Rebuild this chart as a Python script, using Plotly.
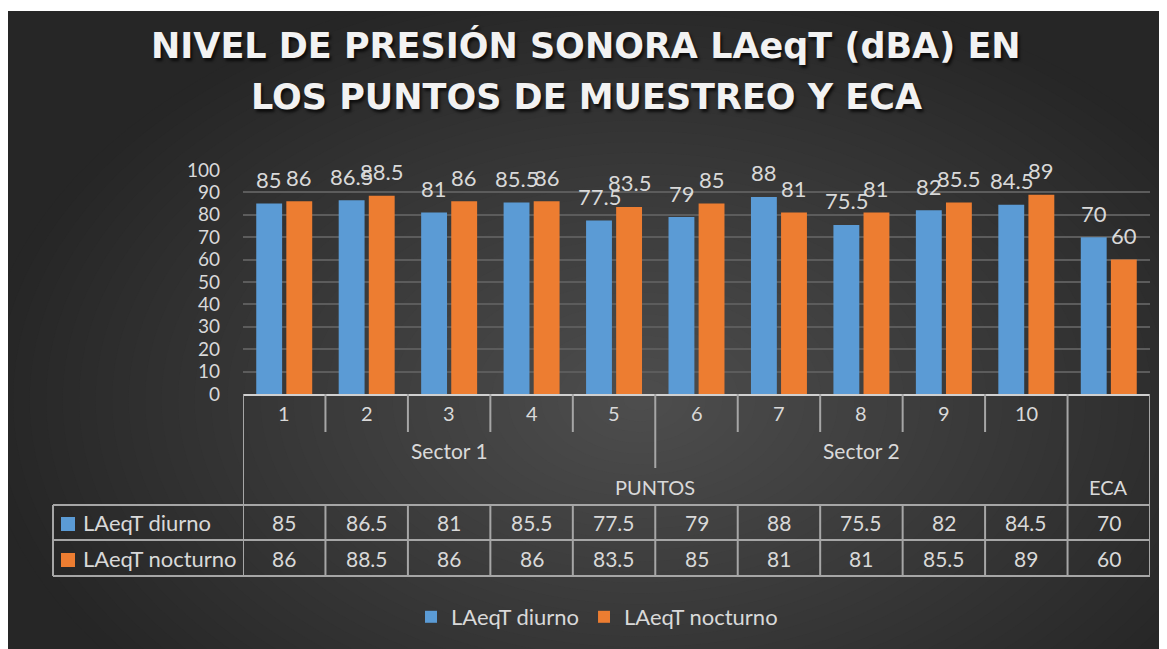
import plotly.graph_objects as go

# --- datos ---
puntos = ["1", "2", "3", "4", "5", "6", "7", "8", "9", "10", "ECA"]
etiquetas_punto = ["1", "2", "3", "4", "5", "6", "7", "8", "9", "10", ""]
sectores = ["Sector 1", "Sector 2"]
sector_idx = [(0, 4), (5, 9)]
grupos = ["PUNTOS", "ECA"]
grupo_idx = [(0, 9), (10, 10)]
series = ["LAeqT diurno", "LAeqT nocturno"]
diurno = [85, 86.5, 81, 85.5, 77.5, 79, 88, 75.5, 82, 84.5, 70]
nocturno = [86, 88.5, 86, 86, 83.5, 85, 81, 81, 85.5, 89, 60]
y_ticks = [0, 10, 20, 30, 40, 50, 60, 70, 80, 90, 100]

titulo = ["NIVEL DE PRESIÓN SONORA LAeqT (dBA) EN", "LOS PUNTOS DE MUESTREO Y ECA"]

# --- estilo ---
FIG_W, FIG_H = 1167, 649
OFF = 8                              # page body margin shifts the figure
L, R, T, B = 243, 1150, 170, 394     # plot area, in screen pixels
FONT = "Lato"
TXT = "#d9d9d9"
LINE = "#a6a6a6"
BLUE = "#5b9bd5"
ORANGE = "#ed7d31"


def px(x):
    return (x - L) / (R - L)


def py(y):
    return (B - y) / (B - T)


fig = go.Figure()
fig.add_trace(go.Bar(x=puntos, y=diurno, name=series[0], marker=dict(color=BLUE, line_width=0)))
fig.add_trace(go.Bar(x=puntos, y=nocturno, name=series[1], marker=dict(color=ORANGE, line_width=0)))

shapes = []
# background: dark radial gradient approximated with nested ellipses
cx, cy, rx, ry = 640, 400, 660, 430
dark, light = 38, 78
steps = 40
for i in range(steps, 0, -1):
    f = i / steps
    g = round(dark + (light - dark) * (1 - f))
    shapes.append(dict(type="circle", xref="paper", yref="paper", layer="below",
                       x0=px(cx - rx * f), x1=px(cx + rx * f), y0=py(cy + ry * f), y1=py(cy - ry * f),
                       fillcolor=f"rgb({g},{g},{g})", line_width=0))
# white page margin at the top
shapes.append(dict(type="rect", xref="paper", yref="paper", layer="below",
                   x0=px(0), x1=px(FIG_W + 20), y0=py(11), y1=py(-5), fillcolor="white", line_width=0))


def vline(xi, y0, y1):
    shapes.append(dict(type="line", xref="x", yref="paper", x0=xi, x1=xi, y0=py(y0), y1=py(y1),
                       line=dict(color=LINE, width=2)))


def hline(x0, x1, y):
    shapes.append(dict(type="line", xref="paper", yref="paper", x0=x0, x1=x1, y0=py(y), y1=py(y),
                       line=dict(color=LINE, width=2)))


n = len(puntos)
# category header dividers
vline(-0.5, B, 576)
vline(n - 0.5, B, 576)
for k in range(n - 1):
    b = k + 0.5
    if any(b == e + 0.5 for _, e in grupo_idx[:-1]):
        vline(b, B, 505)
    elif any(b == e + 0.5 for _, e in sector_idx[:-1]):
        vline(b, B, 468)
    else:
        vline(b, B, 432)
    vline(b, 505, 576)
# data table rows
for yy in (505, 540, 576):
    hline(px(53), 1, yy)
shapes.append(dict(type="line", xref="paper", yref="paper", x0=px(53), x1=px(53),
                   y0=py(505), y1=py(576), line=dict(color=LINE, width=2)))
# legend keys inside table
for j, col in enumerate([BLUE, ORANGE]):
    yc = 524 + 36 * j
    shapes.append(dict(type="rect", xref="paper", yref="paper", x0=px(61), x1=px(75),
                       y0=py(yc + 7), y1=py(yc - 7), fillcolor=col, line_width=0))


def label(x, y, text, size, xref="x", yref="paper", **kw):
    d = dict(x=x, y=y, xref=xref, yref=yref, text=text, showarrow=False,
             xanchor="center", yanchor="middle", font=dict(family=FONT, size=size, color=TXT))
    d.update(kw)
    return d


ann = []
# title
for j, line in enumerate(titulo):
    ann.append(label(px(586), py(45 + 51.5 * j), line, 35, xref="paper",
                     font=dict(family="DejaVu Sans", size=35, color="#f2f2f2", weight="bold",
                               shadow="2px 3px 3px rgba(0,0,0,0.7)")))
# data labels above bars
for vals, shift in ((diurno, -15), (nocturno, 15)):
    for i, v in enumerate(vals):
        ann.append(label(i, v, f"{v:g}", 22, yref="y", xshift=shift, yshift=24))
# multi-level category labels
for i, lab in enumerate(etiquetas_punto):
    ann.append(label(i, py(413), lab, 20))
for lab, (a, b) in zip(sectores, sector_idx):
    ann.append(label((a + b) / 2, py(450), lab, 21))
for lab, (a, b) in zip(grupos, grupo_idx):
    ann.append(label((a + b) / 2, py(487), lab, 20))
# data table values
for j, vals in enumerate([diurno, nocturno]):
    yc = 522 + 36 * j
    ann.append(label(px(81), py(yc), series[j], 22, xref="paper", xanchor="left"))
    for i, v in enumerate(vals):
        ann.append(label(i, py(yc), f"{v:g}", 21))

fig.update_layout(
    width=FIG_W, height=FIG_H,
    margin=dict(l=L - OFF, r=FIG_W - R + OFF, t=T - OFF, b=FIG_H - B + OFF, pad=0),
    paper_bgcolor="#262626", plot_bgcolor="rgba(0,0,0,0)",
    barmode="group", bargap=0.27, bargroupgap=0.14,
    showlegend=True,
    legend=dict(orientation="h", x=px(597), xanchor="center", y=py(617), yanchor="middle",
                font=dict(family=FONT, size=22, color=TXT), bgcolor="rgba(0,0,0,0)",
                itemwidth=30, traceorder="normal"),
    shapes=shapes, annotations=ann,
)
fig.update_xaxes(type="category", range=[-0.5, n - 0.5], showticklabels=False, showgrid=False,
                 showline=True, linecolor="#d0d0d0", linewidth=2, zeroline=False)
fig.update_yaxes(range=[0, 100], tickvals=y_ticks, showgrid=True, gridcolor="#5c5c5c", gridwidth=1.5,
                 zeroline=False, showline=False, ticklabelstandoff=22,
                 tickfont=dict(family=FONT, size=19, color=TXT))

fig.write_html("out.html")
